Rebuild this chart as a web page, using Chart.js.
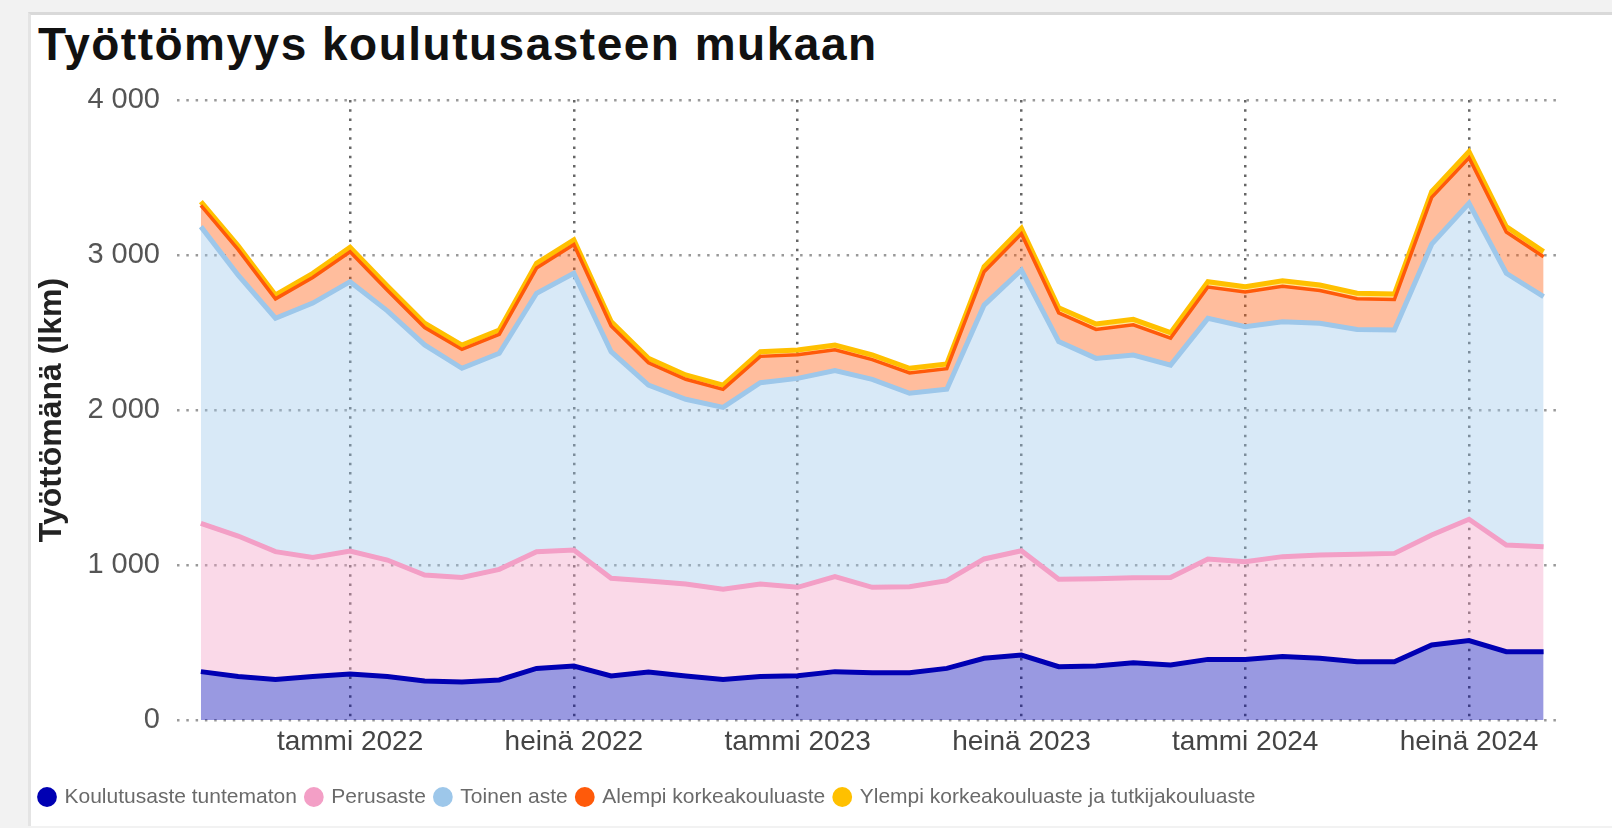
<!DOCTYPE html>
<html lang="fi">
<head>
<meta charset="utf-8">
<title>Työttömyys koulutusasteen mukaan</title>
<script src="https://cdn.jsdelivr.net/npm/chart.js@4.4.1/dist/chart.umd.min.js"></script>
<style>
    body { margin: 0; background: #f2f2f2; width: 1612px; height: 828px; overflow: hidden; position: relative; }
    .panel { position: absolute; left: 28px; top: 12px; width: 1584px; height: 814px; background: #fff;
             border-top: 3px solid #d9d9d9; border-left: 3px solid #e4e4e4; box-sizing: border-box; }
    h1 { position: absolute; left: 38px; top: 21px; margin: 0; font: bold 46px/46px "Liberation Sans", Arial, sans-serif;
         letter-spacing: 1.5px; color: #111; white-space: nowrap; }
    .wrap { position: absolute; left: 0; top: 0; width: 1612px; height: 828px; }
</style>
</head>
<body>
<div class="panel"></div>
<h1>Työttömyys koulutusasteen mukaan</h1>
<div class="wrap"><canvas id="chart"></canvas></div>
<script>
// Months from syys 2021 to syys 2024
const months = [
    'syys 2021', 'loka 2021', 'marras 2021', 'joulu 2021',
    'tammi 2022', 'helmi 2022', 'maalis 2022', 'huhti 2022', 'touko 2022', 'kesä 2022',
    'heinä 2022', 'elo 2022', 'syys 2022', 'loka 2022', 'marras 2022', 'joulu 2022',
    'tammi 2023', 'helmi 2023', 'maalis 2023', 'huhti 2023', 'touko 2023', 'kesä 2023',
    'heinä 2023', 'elo 2023', 'syys 2023', 'loka 2023', 'marras 2023', 'joulu 2023',
    'tammi 2024', 'helmi 2024', 'maalis 2024', 'huhti 2024', 'touko 2024', 'kesä 2024',
    'heinä 2024', 'elo 2024', 'syys 2024'
];

// Series values (persons), stacked in this order
const tuntematon = [312, 280, 262, 280, 297, 280, 252, 245, 258, 333, 348, 284, 310, 284, 262, 280, 285, 312, 305, 305,
    333, 398, 419, 344, 348, 370, 355, 391, 391, 409, 398, 376, 376, 484, 512, 441, 441];
const perusaste = [957, 907, 824, 769, 793, 752, 683, 675, 714, 753, 749, 630, 587, 593, 581, 597, 571, 613, 551, 555,
    566, 641, 673, 564, 564, 548, 565, 648, 630, 645, 667, 693, 699, 710, 783, 688, 677];
const toinenAste = [1914, 1683, 1506, 1641, 1738, 1608, 1485, 1349, 1394, 1667, 1785, 1462, 1264, 1192, 1174, 1299, 1348,
    1329, 1342, 1248, 1235, 1638, 1811, 1533, 1421, 1437, 1370, 1552, 1517, 1516, 1494, 1451, 1441, 1876, 2038, 1753, 1613];
const alempiKorkea = [137, 165, 125, 165, 192, 132, 112, 122, 122, 163, 185, 166, 144, 129, 116, 170, 153, 135, 127, 131,
    133, 215, 234, 186, 187, 195, 174, 202, 223, 229, 212, 198, 197, 302, 294, 266, 258];
const ylempiKorkea = [25, 25, 25, 27, 30, 28, 28, 28, 28, 30, 30, 28, 28, 28, 28, 30, 30, 30, 30, 30,
    30, 33, 35, 33, 35, 35, 35, 35, 35, 35, 35, 35, 35, 37, 40, 35, 33];

const seriesNames = ['Koulutusaste tuntematon', 'Perusaste', 'Toinen aste', 'Alempi korkeakouluaste',
    'Ylempi korkeakouluaste ja tutkijakouluaste'];
const seriesColors = ['0,0,179', '243,159,198', '157,199,234', '255,90,10', '255,192,0'];

// Month indexes that get a labelled tick and a vertical grid line
const xTickIndexes = [4, 10, 16, 22, 28, 34];
const yMax = 4000;
const yStep = 1000;

function formatThousands(v) {
    return String(v).replace(/\B(?=(\d{3})+(?!\d))/g, ' ');
}

const allSeries = [tuntematon, perusaste, toinenAste, alempiKorkea, ylempiKorkea];
const lineWidths = [5, 5, 5, 3.5, 5];

const datasets = allSeries.map((values, s) => ({
    label: seriesNames[s],
    data: values.map((v, i) => ({ x: i, y: v })),
    borderColor: 'rgb(' + seriesColors[s] + ')',
    backgroundColor: 'rgba(' + seriesColors[s] + ',0.4)',
    // solid colour for the legend dots
    pointBackgroundColor: 'rgb(' + seriesColors[s] + ')',
    pointBorderColor: 'rgb(' + seriesColors[s] + ')',
    pointBorderWidth: 0,
    borderWidth: lineWidths[s],
    pointRadius: 0,
    tension: 0,
    fill: s === 0 ? 'origin' : '-1'
}));

const ctx = document.getElementById('chart').getContext('2d');
new Chart(ctx, {
    type: 'line',
    data: { datasets: datasets },
    options: {
        responsive: true,
        maintainAspectRatio: false,
        animation: false,
        layout: { padding: { left: 30, right: 52, top: 100, bottom: 10.5 } },
        plugins: {
            tooltip: { enabled: false },
            legend: {
                position: 'bottom',
                align: 'start',
                labels: {
                    usePointStyle: true,
                    pointStyle: 'circle',
                    boxWidth: 14,
                    boxHeight: 14,
                    padding: 10,
                    color: '#6a6a6a',
                    font: { family: '"Liberation Sans", Arial, sans-serif', size: 21 }
                }
            }
        },
        scales: {
            x: {
                type: 'linear',
                min: -0.64,
                max: 36.44,
                afterFit: function(scale) { scale.height = 56.5; },
                afterBuildTicks: function(scale) {
                    scale.ticks = xTickIndexes.map(v => ({ value: v }));
                },
                ticks: {
                    autoSkip: false,
                    maxRotation: 0,
                    padding: 5,
                    color: '#444',
                    font: { family: '"Liberation Sans", Arial, sans-serif', size: 28 },
                    callback: function(value) { return months[value]; }
                },
                grid: { color: '#666', drawTicks: false, lineWidth: 2.5 },
                border: { display: false, dash: [2.5, 6.8] }
            },
            y: {
                stacked: true,
                min: 0,
                max: yMax,
                afterFit: function(scale) { scale.width = 147; },
                ticks: {
                    stepSize: yStep,
                    padding: 17,
                    color: '#555',
                    font: { family: '"Liberation Sans", Arial, sans-serif', size: 29 },
                    callback: function(value) { return formatThousands(value); }
                },
                grid: { color: '#999', drawTicks: false, lineWidth: 2.5 },
                border: { display: false, dash: [2.5, 6.8] },
                title: {
                    display: true,
                    text: 'Työttömänä (lkm)',
                    color: '#222',
                    padding: { top: 3, bottom: 0 },
                    font: { family: '"Liberation Sans", Arial, sans-serif', size: 32, weight: 'bold' }
                }
            }
        }
    }
});
</script>
</body>
</html>
